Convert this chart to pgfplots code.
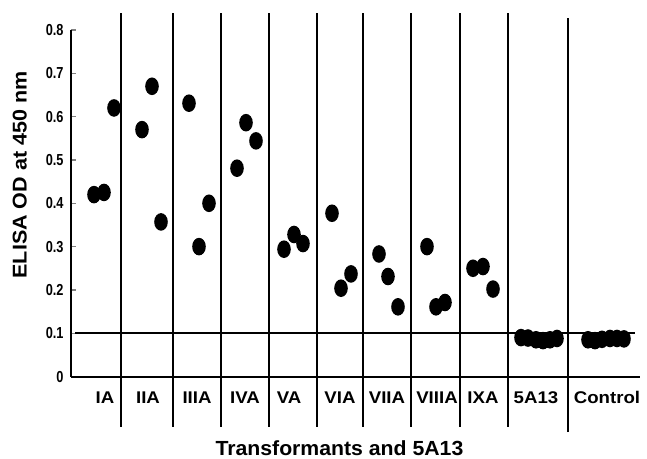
\documentclass[border=0pt]{standalone}
\usepackage{fontspec}
\setmainfont{Liberation Sans}
\newfontfamily\ticknarrow[FakeStretch=0.8]{Liberation Sans}
\newfontfamily\catwide[FakeStretch=1.1]{Liberation Sans}
\newfontfamily\ylabwide[FakeStretch=1.08]{Liberation Sans}
\newfontfamily\titwide[FakeStretch=1.04]{Liberation Sans}
\usepackage{pgfplots}
\pgfplotsset{compat=1.18}
\pgfdeclareplotmark{ell}{\pgfpathellipse{\pgfpointorigin}{\pgfpoint{6.8bp}{0pt}}{\pgfpoint{0pt}{8.8bp}}\pgfusepathqfill}
\begin{document}
\begin{tikzpicture}
\useasboundingbox (0,0) rectangle (647bp,459bp);
\begin{axis}[
  at={(71bp,82.4bp)}, anchor=south west,
  x=1bp, y=433.3bp,
  xmin=71, xmax=640, ymin=0, ymax=0.8,
  enlargelimits=false,
  axis x line=bottom, axis y line=left,
  axis line style={line width=1.8bp, -},
  clip=false,
  ytick={0,0.1,0.2,0.3,0.4,0.5,0.6,0.7,0.8},
  yticklabels={0,0.1,0.2,0.3,0.4,0.5,0.6,0.7,0.8},
  ytick style={line width=1.3bp},
  major tick length=5bp,
  tick align=inside,
  yticklabel style={font=\ticknarrow\bfseries\fontsize{16}{16}\selectfont, xshift=-4bp},
  xtick={105,148,197,245,289,340,387,437,483,536,607},
  xticklabels={IA,IIA,IIIA,IVA,VA,VIA,VIIA,VIIIA,IXA,5A13,Control},
  xtick style={draw=none},
  xticklabel style={font=\catwide\bfseries\fontsize{17}{17}\selectfont, anchor=base, inner sep=0pt, yshift=-27.2bp},
  ylabel={ELISA OD at 450 nm},
  ylabel style={at={(axis description cs:-0.0902,0.5816)}, anchor=center, rotate=0, font=\ylabwide\bfseries\fontsize{20}{20}\selectfont, inner sep=0pt},
  xlabel={Transformants and 5A13},
  xlabel style={at={(axis description cs:0.4718,-0.229)}, anchor=base, font=\titwide\bfseries\fontsize{20.5}{20.5}\selectfont, inner sep=0pt},
]
\pgfplotsinvokeforeach{121,173,221,269,317,363,411,460,508}{
  \draw[line width=1.8bp] (axis cs:#1,-0.116) -- (axis cs:#1,0.839);
}
\draw[line width=1.8bp] (axis cs:568,-0.128) -- (axis cs:568,0.827);
\draw[line width=1.8bp] (axis cs:75,0.1) -- (axis cs:635,0.1);
\addplot[only marks, mark=ell, black] coordinates {
  (94,0.420) (104,0.425) (114,0.620)
  (142,0.570) (152,0.670) (161,0.357)
  (189,0.631) (199,0.300) (209,0.400)
  (237,0.481) (246,0.586) (256,0.544)
  (284,0.294) (294,0.328) (303,0.307)
  (332,0.377) (341,0.204) (351,0.237)
  (379,0.283) (388,0.231) (398,0.161)
  (427,0.300) (436,0.161) (445,0.171)
  (473,0.250) (483,0.254) (493,0.202)
  (521,0.090) (528,0.089) (536,0.085) (543,0.083) (550,0.085) (557,0.088)
  (588,0.085) (595,0.083) (602,0.086) (610,0.088) (617,0.088) (624,0.087)
};
\end{axis}
\end{tikzpicture}
\end{document}
